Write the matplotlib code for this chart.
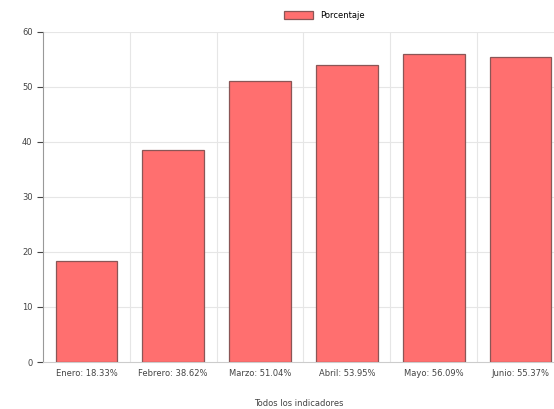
import numpy as np
import matplotlib
matplotlib.use("Agg")
import matplotlib.pyplot as plt

meses = ["Enero", "Febrero", "Marzo", "Abril", "Mayo", "Junio"]
porcentajes = [18.33, 38.62, 51.04, 53.95, 56.09, 55.37]
y_ticks = [0, 10, 20, 30, 40, 50, 60]

labels = [f"{m}: {p:.2f}%" for m, p in zip(meses, porcentajes)]

fig = plt.figure(figsize=(5.54, 4.09), dpi=100)
ax = fig.add_axes([43 / 554, 1 - 362 / 409, 1 - 43 / 554, 330 / 409])

x = np.arange(len(meses))
ax.bar(x, porcentajes, width=0.71, color="#ff6f6f", edgecolor="#8a5656",
       linewidth=0.9, label="Porcentaje", zorder=3)

ax.set_ylim(0, 60)
ax.set_yticks(y_ticks)
ax.set_xlim(-0.5, 5.385)
ax.set_xticks(x)
ax.set_xticklabels(labels, fontsize=6, color="#444444")
ax.tick_params(axis="y", labelsize=6, colors="#444444", length=4)
ax.tick_params(axis="x", length=0, pad=5)

# grid: horizontal lines and vertical lines between categories
for yv in y_ticks[1:]:
    ax.axhline(yv, color="#e6e6e6", linewidth=0.8, zorder=0)
for xv in np.arange(0.5, len(meses), 1.0):
    ax.axvline(xv, color="#e6e6e6", linewidth=0.8, zorder=0)

for side in ["top", "right"]:
    ax.spines[side].set_visible(False)
ax.spines["left"].set_color("#999999")
ax.spines["bottom"].set_color("#cccccc")

ax.set_xlabel("Todos los indicadores", fontsize=6, color="#444444", labelpad=15)

fig.legend(loc="center", bbox_to_anchor=(0.585, 0.963), frameon=False,
           fontsize=6, handlelength=3.5, handleheight=1.0)

fig.savefig("out.png", dpi=100)
